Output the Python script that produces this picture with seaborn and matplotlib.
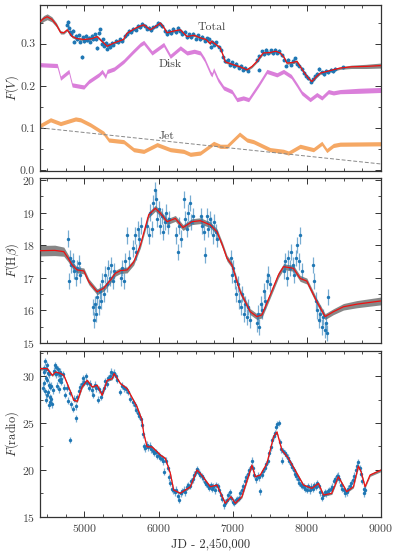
import numpy as np
import matplotlib
matplotlib.use("Agg")
import matplotlib.pyplot as plt
import seaborn as sns
from matplotlib.ticker import MultipleLocator

# ---------------- data: panel 1, F(V) ----------------
tot_x = [4400, 4450, 4497, 4560, 4620, 4677, 4720, 4767, 4834, 4900,
         5000, 5100, 5171, 5240, 5306, 5400, 5526, 5575, 5700, 5799,
         5889, 5950, 6024, 6080, 6114, 6200, 6293, 6383, 6480, 6562,
         6640, 6697, 6710, 6760, 6832, 6870, 6899, 7007, 7100, 7192,
         7260, 7326, 7411, 7505, 7580, 7640, 7690, 7730, 7800, 7865,
         7954, 8020, 8067, 8130, 8179, 8269, 8358, 8448, 8600, 8800, 9000]
tot_y = [0.352, 0.360, 0.364, 0.358, 0.345, 0.327, 0.326, 0.333, 0.317, 0.312,
         0.310, 0.312, 0.317, 0.305, 0.294, 0.302, 0.310, 0.325, 0.338, 0.345,
         0.333, 0.340, 0.349, 0.336, 0.326, 0.330, 0.333, 0.317, 0.320, 0.314,
         0.310, 0.300, 0.306, 0.300, 0.290, 0.272, 0.257, 0.250, 0.245, 0.238,
         0.246, 0.258, 0.278, 0.279, 0.282, 0.278, 0.268, 0.254, 0.255, 0.258,
         0.234, 0.218, 0.210, 0.222, 0.230, 0.234, 0.238, 0.242, 0.245, 0.246, 0.248]
tot_sig = [0.006, 0.007, 0.007, 0.006, 0.005, 0.004, 0.003, 0.003, 0.003, 0.003,
           0.003, 0.003, 0.003, 0.003, 0.003, 0.003, 0.003, 0.003, 0.003, 0.003,
           0.003, 0.003, 0.003, 0.003, 0.003, 0.003, 0.003, 0.003, 0.003, 0.003,
           0.003, 0.003, 0.003, 0.003, 0.003, 0.003, 0.003, 0.003, 0.003, 0.003,
           0.003, 0.003, 0.003, 0.003, 0.003, 0.003, 0.003, 0.003, 0.003, 0.003,
           0.003, 0.003, 0.003, 0.003, 0.003, 0.003, 0.003, 0.003, 0.004, 0.005, 0.006]

disk_x = [4400, 4632, 4660, 4677, 4789, 4815, 4834, 4991, 5058, 5193,
          5238, 5283, 5306, 5400, 5529, 5650, 5754, 5799, 5911, 6068,
          6158, 6293, 6383, 6480, 6562, 6620, 6700, 6720, 6742, 6800,
          6877, 6989, 7057, 7142, 7214, 7348, 7461, 7596, 7685, 7790,
          7865, 7932, 8044, 8134, 8202, 8291, 8358, 8448, 8700, 9000]
disk_y = [0.250, 0.248, 0.230, 0.218, 0.234, 0.215, 0.202, 0.197, 0.210, 0.226,
          0.234, 0.222, 0.234, 0.240, 0.258, 0.280, 0.298, 0.303, 0.278, 0.298,
          0.270, 0.290, 0.278, 0.282, 0.278, 0.262, 0.230, 0.226, 0.238, 0.215,
          0.195, 0.186, 0.167, 0.171, 0.167, 0.202, 0.234, 0.226, 0.234, 0.222,
          0.202, 0.183, 0.167, 0.179, 0.171, 0.186, 0.183, 0.186, 0.188, 0.190]
disk_sig = [0.005, 0.005, 0.005, 0.005, 0.005, 0.005, 0.005, 0.005, 0.005, 0.005,
            0.005, 0.005, 0.005, 0.005, 0.005, 0.005, 0.005, 0.005, 0.005, 0.005,
            0.005, 0.005, 0.005, 0.005, 0.005, 0.005, 0.005, 0.005, 0.005, 0.005,
            0.005, 0.005, 0.005, 0.005, 0.005, 0.005, 0.005, 0.005, 0.005, 0.005,
            0.005, 0.005, 0.005, 0.005, 0.005, 0.005, 0.005, 0.005, 0.006, 0.006]

jet_x = [4400, 4542, 4677, 4879, 4946, 5081, 5260, 5327, 5529, 5664,
         5799, 5979, 6158, 6338, 6428, 6562, 6742, 6832, 6922, 7092,
         7192, 7280, 7505, 7685, 7752, 7909, 8089, 8202, 8269, 8358, 8448, 9000]
jet_y = [0.105, 0.119, 0.110, 0.121, 0.119, 0.107, 0.087, 0.071, 0.067, 0.048,
         0.044, 0.060, 0.048, 0.044, 0.037, 0.040, 0.063, 0.056, 0.056, 0.085,
         0.071, 0.067, 0.048, 0.044, 0.040, 0.056, 0.048, 0.063, 0.046, 0.058, 0.061, 0.062]
jet_sig = [0.005, 0.005, 0.005, 0.005, 0.005, 0.005, 0.005, 0.005, 0.005, 0.005,
           0.005, 0.005, 0.005, 0.005, 0.005, 0.005, 0.005, 0.005, 0.005, 0.005,
           0.005, 0.005, 0.005, 0.005, 0.005, 0.005, 0.005, 0.005, 0.005, 0.005, 0.005, 0.005]

trend_x = [4400, 9000]
trend_y = [0.100, 0.014]

p1_x = [4760, 4775, 4790, 4800, 4820, 4840, 4860, 4880, 4900, 4920,
        4940, 4960, 4975, 5000, 5020, 5040, 5060, 5080, 5100, 5120,
        5140, 5160, 5175, 5190, 5210, 5230, 5250, 5270, 5290, 5310,
        5330, 5350, 5370, 5390, 5420, 5450, 5480, 5510, 5540, 5570,
        5600, 5630, 5660, 5690, 5720, 5750, 5780, 5810, 5840, 5870,
        5900, 5930, 5960, 5990, 6020, 6050, 6080, 6110, 6140, 6170,
        6200, 6230, 6260, 6290, 6320, 6350, 6380, 6410, 6440, 6470,
        6500, 6530, 6560, 6590, 6620, 6650, 6680, 6700, 6720, 6750,
        6780, 6810, 6840, 6870, 6900, 6930, 6960, 6990, 7020, 7050,
        7080, 7110, 7140, 7170, 7200, 7348, 7330, 7360, 7390, 7420,
        7450, 7480, 7510, 7540, 7570, 7600, 7630, 7660, 7690, 7720,
        7750, 7780, 7810, 7840, 7870, 7900, 7930, 7960, 7990, 8020,
        8050, 8080, 8110, 8140, 8170, 8200, 8230, 8260, 8290, 8320,
        8350, 8380, 8490]
p1_y = [0.345, 0.352, 0.338, 0.328, 0.322, 0.330, 0.305, 0.318, 0.310, 0.320,
        0.305, 0.268, 0.315, 0.306, 0.318, 0.308, 0.314, 0.305, 0.318, 0.310,
        0.322, 0.310, 0.290, 0.325, 0.334, 0.300, 0.310, 0.295, 0.302, 0.288,
        0.297, 0.292, 0.302, 0.298, 0.306, 0.303, 0.310, 0.306, 0.318, 0.322,
        0.330, 0.327, 0.335, 0.333, 0.343, 0.340, 0.348, 0.342, 0.336, 0.338,
        0.332, 0.339, 0.343, 0.350, 0.347, 0.342, 0.330, 0.322, 0.330, 0.325,
        0.335, 0.328, 0.337, 0.330, 0.322, 0.328, 0.315, 0.322, 0.315, 0.324,
        0.312, 0.320, 0.310, 0.316, 0.307, 0.313, 0.310, 0.292, 0.305, 0.298,
        0.303, 0.293, 0.285, 0.268, 0.258, 0.262, 0.250, 0.256, 0.246, 0.252,
        0.243, 0.248, 0.238, 0.242, 0.236, 0.238, 0.262, 0.270, 0.282, 0.275,
        0.285, 0.278, 0.284, 0.277, 0.286, 0.279, 0.283, 0.272, 0.262, 0.248,
        0.262, 0.250, 0.260, 0.265, 0.252, 0.248, 0.240, 0.230, 0.222, 0.218,
        0.210, 0.215, 0.222, 0.228, 0.240, 0.232, 0.228, 0.236, 0.232, 0.238,
        0.234, 0.240, 0.244]
p1_err = 0.004

# ---------------- data: panel 2, F(Hbeta) ----------------
hb_x = [4400, 4600, 4721, 4780, 4834, 4902, 4991, 5058, 5171, 5260,
        5350, 5417, 5485, 5575, 5664, 5754, 5866, 5956, 6024, 6114,
        6226, 6329, 6450, 6562, 6697, 6787, 6860, 6922, 6989, 7101,
        7236, 7326, 7393, 7505, 7617, 7685, 7819, 7909, 7999, 8134,
        8246, 8358, 8493, 8673, 9000]
hb_y = [17.83, 17.84, 17.80, 17.60, 17.39, 17.24, 17.21, 16.88, 16.57, 16.68,
        16.93, 17.14, 17.22, 17.24, 17.48, 18.00, 18.93, 19.13, 18.98, 18.72,
        18.82, 18.54, 18.72, 18.75, 18.62, 18.41, 18.00, 17.60, 17.39, 16.57,
        15.96, 15.81, 15.86, 16.47, 17.09, 17.34, 17.29, 16.98, 16.90, 16.27,
        15.81, 15.96, 16.11, 16.19, 16.29]
hb_sig = [0.16, 0.16, 0.14, 0.11, 0.09, 0.09, 0.09, 0.09, 0.09, 0.09,
          0.09, 0.09, 0.09, 0.09, 0.09, 0.09, 0.09, 0.09, 0.09, 0.09,
          0.09, 0.09, 0.09, 0.09, 0.09, 0.09, 0.09, 0.09, 0.09, 0.09,
          0.09, 0.09, 0.09, 0.09, 0.09, 0.09, 0.09, 0.09, 0.09, 0.09,
          0.09, 0.09, 0.10, 0.11, 0.12]

p2_x = [4775, 4790, 4800, 4820, 4840, 4860, 4880, 4900, 4920, 4940,
        5110, 5125, 5140, 5160, 5175, 5190, 5205, 5220, 5240, 5260,
        5280, 5300, 5320, 5340, 5360, 5380, 5400,
        5490, 5510, 5530, 5550, 5570, 5600, 5660, 5680, 5700, 5720, 5740, 5760,
        5850, 5870, 5890, 5910, 5930, 5950, 5965, 5980, 6000, 6020,
        6040, 6060, 6080, 6100, 6120, 6140,
        6240, 6260, 6280, 6300, 6340, 6360, 6380, 6400, 6420, 6440, 6460,
        6570, 6590, 6610, 6630, 6650, 6670, 6690, 6710, 6730, 6750, 6770, 6790,
        6970, 6990, 7010, 7030, 7050, 7070, 7090, 7110, 7130, 7150,
        7170, 7190, 7210, 7230,
        7330, 7345, 7360, 7380, 7400, 7420, 7440, 7460, 7480, 7500,
        7690, 7710, 7730, 7750, 7770, 7790, 7810, 7830, 7850, 7870,
        7890, 7910, 7930,
        8085, 8100, 8120, 8140, 8160, 8180, 8200, 8220, 8240, 8260, 8275, 8290]
p2_y = [18.2, 16.9, 17.6, 17.4, 17.5, 17.2, 17.0, 17.3, 17.45, 17.1,
        16.1, 15.7, 16.2, 15.9, 16.4, 16.1, 16.6, 16.3, 16.9, 16.5,
        17.1, 16.8, 17.3, 17.0, 17.4, 16.9, 17.2,
        17.0, 17.3, 16.9, 17.5, 18.3, 17.6, 17.9, 18.3, 17.8, 18.5, 18.2, 18.6,
        18.6, 18.3, 19.0, 18.5, 19.3, 19.7, 19.4, 18.8, 19.1, 18.6,
        18.9, 18.4, 18.7, 19.0, 18.6, 18.8,
        18.3, 17.8, 18.6, 18.2, 19.4, 18.8, 18.5, 19.0, 19.3, 18.7, 18.9,
        18.9, 18.6, 18.4, 17.7, 18.9, 18.5, 18.8, 18.6, 18.3, 18.7, 18.4, 18.2,
        17.6, 17.1, 17.3, 16.9, 16.5, 16.8, 16.3, 16.1, 16.5, 15.9,
        16.2, 15.8, 16.1, 15.7,
        15.6, 15.9, 15.5, 16.2, 16.0, 16.6, 16.3, 16.9, 17.1, 16.8,
        17.2, 17.5, 17.0, 17.6, 17.3, 17.8, 17.4, 17.1, 17.6, 18.0,
        17.5, 18.3, 17.2,
        17.4, 16.9, 16.3, 16.0, 15.7, 15.9, 15.5, 15.8, 15.4, 15.6, 15.3, 16.4]
p2_err = 0.25

# ---------------- data: panel 3, F(radio) ----------------
rad_x = [4400, 4497, 4565, 4609, 4677, 4721, 4767, 4856, 4902, 4969,
         5036, 5104, 5171, 5238, 5306, 5373, 5400, 5485, 5575, 5709,
         5776, 5799, 5844, 5911, 6024, 6091, 6158, 6203, 6293, 6428,
         6518, 6562, 6697, 6787, 6899, 6975, 7034, 7124, 7259, 7303,
         7371, 7461, 7550, 7596, 7663, 7752, 7865, 7954, 8067, 8156,
         8224, 8336, 8425, 8538, 8628, 8695, 8731, 8785, 8852, 9000]
rad_y = [30.82, 30.82, 30.10, 30.46, 30.30, 30.10, 29.22, 27.44, 27.33, 28.86,
         29.57, 28.86, 29.04, 27.97, 29.57, 29.75, 30.29, 29.22, 28.69, 26.73,
         25.31, 23.89, 22.46, 22.46, 21.58, 21.23, 19.63, 17.85, 17.50, 18.20,
         19.98, 19.63, 18.20, 18.38, 16.43, 17.14, 16.43, 17.14, 20.51, 19.27,
         19.45, 20.69, 23.53, 24.06, 22.11, 21.23, 19.63, 18.38, 18.03, 18.56,
         17.31, 17.50, 19.27, 17.67, 18.20, 20.40, 19.80, 18.20, 19.45, 19.98]
rad_sig = [0.15, 0.15, 0.12, 0.12, 0.12, 0.12, 0.12, 0.12, 0.12, 0.12,
           0.12, 0.12, 0.12, 0.12, 0.12, 0.12, 0.12, 0.12, 0.12, 0.12,
           0.12, 0.12, 0.12, 0.12, 0.12, 0.12, 0.12, 0.12, 0.12, 0.12,
           0.12, 0.12, 0.12, 0.12, 0.12, 0.12, 0.12, 0.12, 0.12, 0.12,
           0.12, 0.12, 0.12, 0.12, 0.12, 0.12, 0.12, 0.12, 0.12, 0.12,
           0.12, 0.12, 0.12, 0.12, 0.12, 0.12, 0.12, 0.12, 0.14, 0.16]

p3_x = [4440, 4448, 4455, 4460, 4465, 4470, 4475, 4480, 4485, 4490,
        4495, 4500, 4505, 4510, 4515, 4520, 4525, 4530, 4535, 4540,
        4545, 4552, 4560, 4575, 4590, 4600, 4608, 4615, 4622, 4630,
        4638, 4645, 4652, 4660, 4668, 4675, 4682,
        4690, 4705, 4720, 4740, 4760, 4780, 4800, 4811, 4820, 4840,
        4860, 4880, 4892, 4900, 4920, 4940, 4960, 4980, 5000, 5020,
        5040, 5060, 5080, 5100, 5120, 5140, 5160, 5180, 5200, 5220,
        5240, 5260, 5280, 5300, 5320, 5340, 5360, 5380, 5400, 5420,
        5440, 5485, 5500, 5530, 5560, 5590, 5620, 5650, 5680, 5700,
        5720, 5740, 5760, 5775, 5790, 5805, 5820, 5840, 5860, 5880,
        5900, 5920, 5940, 5960, 5980, 6000, 6020, 6040, 6060, 6069,
        6100, 6120, 6140, 6160, 6180, 6200, 6220, 6240, 6260, 6270,
        6300, 6320, 6340, 6360, 6380, 6400, 6420, 6440, 6460, 6480,
        6500, 6520, 6540, 6560, 6580, 6600, 6620, 6640, 6660, 6680,
        6700, 6720, 6740, 6760, 6780, 6800, 6820, 6840, 6860, 6880,
        6900, 6920, 6940, 6960, 6980, 7000, 7020, 7040, 7060, 7080,
        7100, 7120, 7140, 7160, 7180, 7200, 7220, 7240, 7259, 7270,
        7290, 7310, 7340, 7360, 7371, 7390, 7410, 7430, 7450, 7470,
        7490, 7510, 7530, 7550, 7570, 7585, 7600, 7619, 7635, 7650,
        7665, 7680, 7700, 7720, 7740, 7760, 7780, 7800, 7820, 7840,
        7860, 7880, 7900, 7920, 7940, 7960, 7980, 8000, 8020, 8040,
        8060, 8080, 8100, 8120, 8140, 8160, 8180, 8200, 8220, 8240,
        8260, 8280, 8300, 8320, 8340, 8360, 8380, 8400, 8420, 8440,
        8460, 8480, 8500, 8520, 8540, 8560, 8580, 8600, 8620, 8640,
        8660, 8680, 8695, 8710, 8730, 8750, 8765, 8775, 8785]
p3_y = [28.8, 30.9, 30.5, 29.3, 31.6, 28.4, 27.5, 30.8, 29.8, 28.0,
        31.2, 29.6, 28.3, 30.4, 26.9, 29.1, 30.2, 27.8, 27.2, 28.9,
        29.0, 27.6, 27.0, 28.5, 30.6, 31.2, 30.4, 30.2, 31.0, 29.0,
        30.3, 30.8, 29.6, 28.6, 30.1, 30.5, 29.7,
        29.4, 30.2, 28.8, 28.0, 28.8, 27.4, 28.2, 23.2, 27.0, 26.5,
        27.6, 26.8, 25.5, 27.8, 28.4, 28.9, 29.2, 29.8, 29.4, 30.0,
        29.3, 28.8, 29.2, 28.5, 28.0, 29.1, 28.7, 27.5, 28.6, 27.8,
        28.3, 28.8, 29.5, 29.2, 29.8, 30.0, 30.5, 30.2, 30.4, 30.0,
        29.6, 28.3, 29.0, 28.7, 28.6, 28.3, 27.6, 27.2, 26.9, 26.4,
        26.1, 25.8, 25.4, 24.8, 23.8, 22.5, 22.3, 22.7, 22.4, 22.6,
        22.2, 22.0, 21.8, 21.9, 21.5, 21.6, 21.3, 21.2, 20.9, 19.8,
        21.0, 20.2, 19.2, 18.6, 18.0, 17.8, 17.6, 17.9, 17.2, 16.8,
        17.5, 17.7, 17.9, 17.6, 18.2, 18.4, 18.3, 18.8, 19.0, 19.5,
        19.8, 20.1, 19.7, 19.5, 19.3, 19.1, 18.7, 18.5, 18.3, 18.1,
        18.4, 18.0, 18.2, 17.8, 18.4, 18.3, 17.9, 17.3, 16.9, 16.2,
        16.5, 16.8, 17.3, 17.6, 17.0, 16.6, 16.5, 16.8, 16.9, 17.0,
        17.5, 17.8, 18.3, 18.8, 19.2, 19.6, 20.0, 20.3, 21.0, 20.2,
        19.5, 19.0, 19.4, 19.2, 17.7, 19.5, 19.9, 20.2, 20.6, 21.0,
        21.8, 22.4, 23.2, 23.6, 23.9, 24.6, 24.9, 25.0, 23.0, 22.2,
        21.0, 22.0, 21.8, 21.6, 21.3, 21.0, 20.6, 20.3, 20.0, 19.6,
        19.3, 19.0, 18.6, 18.4, 18.3, 18.2, 18.0, 17.9, 18.3, 17.8,
        18.2, 18.0, 18.4, 18.2, 18.6, 18.3, 17.6, 17.0, 17.3, 17.6,
        17.5, 17.7, 17.8, 18.0, 18.2, 18.8, 19.0, 19.3, 19.4, 19.0,
        18.4, 18.0, 17.8, 17.5, 17.6, 18.0, 18.3, 18.6, 18.9, 19.4,
        20.0, 20.4, 20.8, 20.2, 19.6, 18.8, 18.0, 17.5, 17.9]
p3_err = 0.35

xlim = (4400, 9000)

# ---------------- styling ----------------
sns.set_style("ticks")
plt.rcParams["font.family"] = ["cmr10", "DejaVu Serif"]
plt.rcParams["mathtext.fontset"] = "cm"
plt.rcParams["axes.formatter.use_mathtext"] = True
plt.rcParams["font.size"] = 9

BLUE = "#1f77b4"
RED = "#ee1111"
GRAY = "#555555"
DISK = "#d878d8"
JET = "#f5a35c"

fig = plt.figure(figsize=(3.99, 5.52), dpi=100)
left, width = 40 / 399, 341 / 399
ax1 = fig.add_axes([left, 1 - 170.7 / 552, width, 165.7 / 552])
ax2 = fig.add_axes([left, 1 - 343 / 552, width, 164.7 / 552], sharex=ax1)
ax3 = fig.add_axes([left, 1 - 516.7 / 552, width, 165.7 / 552], sharex=ax1)


def band(ax, x, y, s, color, alpha):
    x = np.asarray(x); y = np.asarray(y); s = np.asarray(s)
    ax.fill_between(x, y - s, y + s, color=color, alpha=alpha, lw=0, zorder=2)


# panel 1
band(ax1, disk_x, disk_y, disk_sig, DISK, 0.95)
band(ax1, jet_x, jet_y, jet_sig, JET, 0.95)
sns.lineplot(x=trend_x, y=trend_y, ax=ax1, color="#888888", lw=0.7,
             linestyle=(0, (4, 2)), zorder=2)
band(ax1, tot_x, tot_y, tot_sig, GRAY, 0.7)
ax1.errorbar(p1_x, p1_y, yerr=p1_err, fmt="none", ecolor=BLUE, alpha=0.6,
             elinewidth=0.8, zorder=3)
sns.scatterplot(x=p1_x, y=p1_y, ax=ax1, color=BLUE, s=8, linewidth=0,
                zorder=4, legend=False)
sns.lineplot(x=tot_x, y=tot_y, ax=ax1, color=RED, lw=0.9, zorder=5,
             sort=False)
ax1.text(6720, 0.338, "Total", color="#444444", fontsize=8.5,
         ha="center", va="center")
ax1.text(6160, 0.250, "Disk", color="#444444", fontsize=8.5,
         ha="center", va="center")
ax1.text(6110, 0.081, "Jet", color="#444444", fontsize=8.5,
         ha="center", va="center")
ax1.set_ylim(-0.002, 0.392)
ax1.set_ylabel("$F(V)$")
ax1.yaxis.set_major_locator(MultipleLocator(0.1))
ax1.yaxis.set_minor_locator(MultipleLocator(0.05))
ax1.set_yticks([0.0, 0.1, 0.2, 0.3])
ax1.set_yticklabels(["0.0", "0.1", "0.2", "0.3"])

# panel 2
band(ax2, hb_x, hb_y, hb_sig, GRAY, 0.7)
ax2.errorbar(p2_x, p2_y, yerr=p2_err, fmt="none", ecolor=BLUE, alpha=0.6,
             elinewidth=0.9, zorder=3)
sns.scatterplot(x=p2_x, y=p2_y, ax=ax2, color=BLUE, s=6, linewidth=0,
                zorder=4, legend=False)
sns.lineplot(x=hb_x, y=hb_y, ax=ax2, color=RED, lw=0.9, zorder=5, sort=False)
ax2.set_ylim(15.0, 20.05)
ax2.set_ylabel(r"$F(\mathrm{H}\beta)$")
ax2.yaxis.set_major_locator(MultipleLocator(1))
ax2.yaxis.set_minor_locator(MultipleLocator(0.5))

# panel 3
band(ax3, rad_x, rad_y, rad_sig, GRAY, 0.7)
ax3.errorbar(p3_x, p3_y, yerr=p3_err, fmt="none", ecolor=BLUE, alpha=0.6,
             elinewidth=0.9, zorder=3)
sns.scatterplot(x=p3_x, y=p3_y, ax=ax3, color=BLUE, s=6, linewidth=0,
                zorder=4, legend=False)
sns.lineplot(x=rad_x, y=rad_y, ax=ax3, color=RED, lw=0.9, zorder=5, sort=False)
ax3.set_ylim(15.0, 32.7)
ax3.set_ylabel(r"$F(\mathrm{radio})$")
ax3.yaxis.set_major_locator(MultipleLocator(5))
ax3.yaxis.set_minor_locator(MultipleLocator(2.5))
ax3.set_xlabel("JD - 2,450,000")

for ax in (ax1, ax2, ax3):
    ax.set_xlim(*xlim)
    ax.xaxis.set_major_locator(MultipleLocator(1000))
    ax.xaxis.set_minor_locator(MultipleLocator(250))
    ax.tick_params(which="both", direction="in", top=True, right=True,
                   labelsize=8.5, colors="#333333", labelcolor="#444444")
    ax.tick_params(which="major", length=4, width=0.7)
    ax.tick_params(which="minor", length=2, width=0.6)
    for sp in ax.spines.values():
        sp.set_color("#333333")
        sp.set_linewidth(0.9)
    ax.yaxis.label.set_color("#333333")
    ax.xaxis.label.set_color("#333333")
    ax.yaxis.set_label_coords(-0.055, 0.5)
for ax in (ax1, ax2):
    plt.setp(ax.get_xticklabels(), visible=False)
ax3.set_xticks([5000, 6000, 7000, 8000, 9000])

fig.savefig("out.png", dpi=100)
